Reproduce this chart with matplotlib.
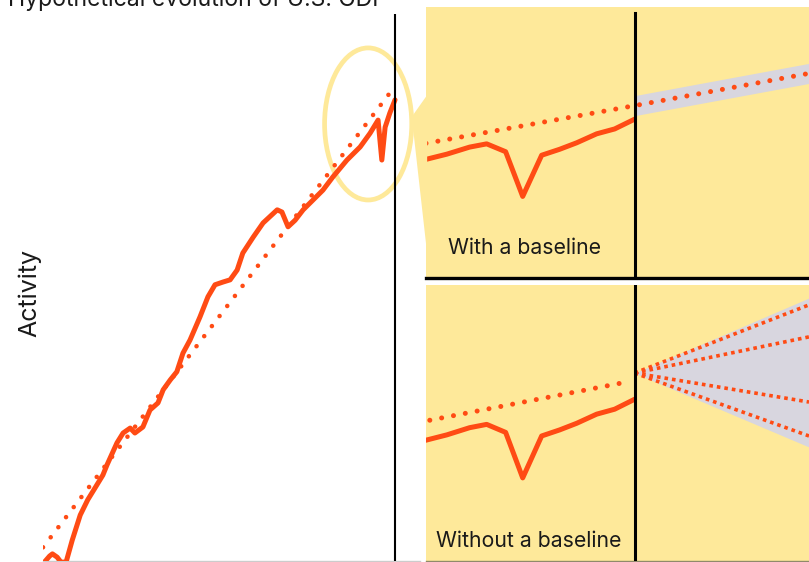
import matplotlib
matplotlib.use("Agg")
import matplotlib.pyplot as plt
from matplotlib.patches import Ellipse, Polygon

plt.rcParams['font.family'] = ['Inter', 'DejaVu Sans']

# ---------------- data ----------------
title = "Hypothetical evolution of U.S. GDP"
ylabel = "Activity"
label_top = "With a baseline"
label_bottom = "Without a baseline"

gdp_years = [1947.0, 1948.4, 1949.0, 1950.0, 1950.8, 1951.9, 1953.2, 1954.9, 1956.5, 1958.0,
             1959.7, 1960.6, 1962.7, 1964.0, 1965.5, 1966.5, 1968.2, 1969.7, 1971.4, 1972.5,
             1974.0, 1975.4, 1976.7, 1978.2, 1980.3, 1982.0, 1983.5, 1985.2, 1986.7, 1988.2,
             1989.4, 1991.6, 1993.7, 1996.7, 1997.7, 1999.0, 2000.5, 2002.2, 2004.3, 2006.4,
             2008.5, 2011.5, 2014.3, 2016.4, 2018.1, 2018.9, 2019.6, 2020.6, 2021.7]
gdp_values = [-0.5, 0.9, 1.3, 0.7, -0.2, -0.2, 3.8, 8.4, 11.2, 13.3,
              15.7, 17.6, 21.6, 23.4, 24.3, 23.4, 24.5, 27.6, 28.9, 31.3,
              33.1, 34.6, 38.0, 40.4, 44.6, 48.3, 50.5, 51.0, 51.4, 53.2,
              56.3, 59.2, 61.8, 64.2, 63.8, 61.1, 62.3, 64.2, 66.0, 67.8,
              70.2, 73.3, 75.7, 78.2, 80.6, 73.3, 79.3, 81.9, 84.3]
trend_years = [1947.0, 2021.7]
trend_values = [2.5, 86.8]
today_year = 2021.7

# zoomed panels (schematic)
panel_x = [-0.1, 1.1, 2.3, 3.2, 4.2, 5.1, 6.1, 7.05, 7.95, 9.0, 9.95, 11.0]
panel_solid = [43.6, 45.7, 48.3, 49.5, 46.6, 30.1, 45.3, 47.5, 49.9, 53.2, 55.0, 58.6]
panel_trend_x = [0.0, 11.0]
panel_trend_y = [49.7, 63.6]
bottom_trend_x = [0.2, 10.4]
bottom_trend_y = [51.0, 64.6]
forecast_x = [11.0, 20.2]
forecast_y = [63.6, 75.5]
band_halfwidth = 3.7
fan_start = (11.0, 68.1)
fan_end_x = 20.2
fan_upper, fan_lower = 95.3, 41.3
fan_lines = [92.8, 81.2, 57.6, 45.3]
panel_now = 11.0

# ---------------- style ----------------
ORANGE = '#FF4B14'
YELLOW = '#FEE99A'
BAND = '#D8D6DF'

W, H = 809, 562
fig = plt.figure(figsize=(W / 100, H / 100), dpi=100)


def rect(x0, y0, x1, y1):
    # pixel box (top-left origin) -> figure fraction
    return [x0 / W, 1 - y1 / H, (x1 - x0) / W, (y1 - y0) / H]


# ---------------- left chart ----------------
axL = fig.add_axes(rect(43, 14, 420, 561))
axL.set_facecolor('none')
axL.set_xlim(1947, 2027)
axL.set_ylim(0, 100)
for s in ['top', 'right', 'left']:
    axL.spines[s].set_visible(False)
axL.spines['bottom'].set_color('#cccccc')
axL.spines['bottom'].set_linewidth(1.0)
axL.set_xticks([])
axL.set_yticks([])

ell_cx, ell_cy, ell_w, ell_h = 2016.0, 79.9, 18.5, 27.8
axL.add_patch(Ellipse((ell_cx, ell_cy), ell_w, ell_h, fill=False,
                      edgecolor=YELLOW, linewidth=3.4, zorder=1))
axL.plot(trend_years, trend_values, color=ORANGE, lw=3.3,
         linestyle=(0, (0.01, 2.75)), dash_capstyle='round', zorder=3)
axL.plot(gdp_years, gdp_values, color=ORANGE, lw=3.6, solid_joinstyle='round',
         solid_capstyle='round', zorder=4)
axL.axvline(today_year, color='black', lw=1.5, zorder=5)

# ---------------- right panels ----------------
axT = fig.add_axes(rect(426, 7, 809, 278))
axB = fig.add_axes(rect(426, 285, 809, 561))
for ax in (axT, axB):
    ax.set_facecolor(YELLOW)
    ax.set_xlim(0, 20.2)
    ax.set_ylim(0, 100)
    ax.set_xticks([])
    ax.set_yticks([])
    for s in ['top', 'right', 'left']:
        ax.spines[s].set_visible(False)
    ax.plot(panel_x, panel_solid, color=ORANGE, lw=3.6, solid_joinstyle='round',
            solid_capstyle='round', zorder=4)

axT.spines['bottom'].set_color('black')
axT.spines['bottom'].set_linewidth(2.4)
axB.spines['bottom'].set_color('#8f8a6a')
axB.spines['bottom'].set_linewidth(1.0)

# top: baseline forecast with band
band_lo = [v - band_halfwidth for v in forecast_y]
band_hi = [v + band_halfwidth for v in forecast_y]
axT.fill_between(forecast_x, band_lo, band_hi, color=BAND, lw=0, zorder=2)
axT.plot(panel_trend_x + forecast_x, panel_trend_y + forecast_y, color=ORANGE, lw=3.6,
         linestyle=(0, (0.01, 2.4)), dash_capstyle='round', zorder=3)
axT.axvline(panel_now, ymin=0, ymax=(278 - 13) / (278 - 7), color='black', lw=2.2, zorder=5)
axT.text(0.057, 0.089, label_top, transform=axT.transAxes, fontsize=15.3,
         color='#1a1a1a', va='baseline', ha='left')

# bottom: no baseline, fan of forecasts
axB.fill_between([fan_start[0], fan_end_x], [fan_start[1], fan_lower],
                 [fan_start[1], fan_upper], color=BAND, lw=0, zorder=2)
for v in fan_lines:
    axB.plot([fan_start[0], fan_end_x], [fan_start[1], v], color=ORANGE, lw=2.6,
             linestyle=(0, (1, 1.1)), dash_capstyle='butt', zorder=3)
axB.plot(bottom_trend_x, bottom_trend_y, color=ORANGE, lw=3.6,
         linestyle=(0, (0.01, 2.4)), dash_capstyle='round', zorder=3)
axB.axvline(panel_now, color='black', lw=2.2, zorder=5)
axB.text(0.026, 0.05, label_bottom, transform=axB.transAxes, fontsize=15.3,
         color='#1a1a1a', va='baseline', ha='left')

# ---------------- connector wedge ----------------
inv = fig.transFigure.inverted()
p_apex = inv.transform(axL.transData.transform((ell_cx + ell_w / 2, ell_cy + 1.3)))
p_top = inv.transform(axT.transAxes.transform((0.003, 0.675)))
p_bot = inv.transform(axT.transAxes.transform((0.003, 0.09)))
fig.patches.append(Polygon([p_apex, p_top, p_bot], closed=True, transform=fig.transFigure,
                           facecolor=YELLOW, edgecolor='none', zorder=0.5))

# ---------------- texts ----------------
fig.text(8 / W, 1 - 6 / H, title, fontsize=16.6, color='#1a1a1a', va='baseline', ha='left')
fig.text(30 / W, 1 - 293 / H, ylabel, fontsize=18, color='#1a1a1a', rotation=90,
         va='center', ha='center')

fig.savefig('out.png', dpi=100)
